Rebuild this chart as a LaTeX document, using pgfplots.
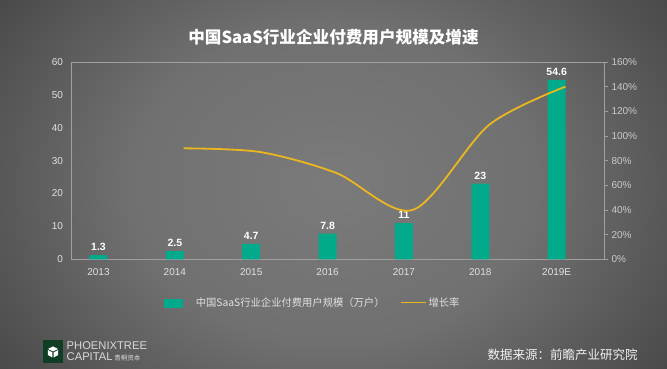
\documentclass[border=0pt]{standalone}
\usepackage{pgfplots}
\pgfplotsset{compat=1.18}
\usepackage{fontspec}
\setmainfont{Liberation Sans}
\newfontfamily\cjk{Noto Sans CJK SC}
\definecolor{barc}{RGB}{0,170,138}
\definecolor{linec}{RGB}{236,183,30}
\definecolor{axc}{RGB}{160,160,160}
\definecolor{tickc}{RGB}{225,225,225}
\definecolor{logog}{RGB}{16,62,36}
\definecolor{c0}{gray}{0.48}
\definecolor{c1}{gray}{0.44}
\definecolor{c2}{gray}{0.28}
\definecolor{c3}{gray}{0.12}
\definecolor{c4}{gray}{0.07}
\pgfdeclareradialshading{bgshade}{\pgfpointorigin}{color(0bp)=(c0); color(12bp)=(c1); color(25bp)=(c2); color(33bp)=(c3); color(41bp)=(c4); color(50bp)=(c4)}
\pgfplotsset{/pgf/number format/assume math mode=true}
\begin{document}
\begin{tikzpicture}
\useasboundingbox (0pt,0pt) rectangle (667pt,369pt);
\begin{scope}
\clip (0pt,0pt) rectangle (667pt,369pt);
\fill[c4] (0pt,0pt) rectangle (667pt,369pt);
\shade[shading=bgshade] (-87pt,-145.5pt) rectangle (753pt,514.5pt);
\end{scope}
% title
\node[text=white] at (333.5pt,331.6pt) {\cjk\bfseries\fontsize{16.6}{20}\selectfont 中国SaaS行业企业付费用户规模及增速};
\begin{axis}[
  at={(71pt,109.7pt)}, anchor=south west,
  width=533pt, height=197.3pt, scale only axis,
  xmin=-0.36, xmax=6.62, ymin=0, ymax=60,
  xtick={0,...,6}, xticklabels={2013,2014,2015,2016,2017,2018,2019E},
  ytick={0,10,...,60},
  major tick length=0pt,
  axis line style={draw=axc, line width=0.8pt},
  tick label style={text=tickc, font=\fontsize{10}{12}\selectfont},
  yticklabel style={xshift=-4.5pt},
  xticklabel style={yshift=-5.5pt},
  ybar, bar width=18pt,
  nodes near coords,
  every node near coord/.append style={text=white, font=\bfseries\fontsize{10.5}{12}\selectfont, yshift=1pt},
]
\addplot[fill=barc, draw=none] coordinates {(0,1.3) (1,2.5) (2,4.7) (3,7.8) (4,11) (5,23) (6,54.6)};
\end{axis}
\begin{axis}[
  at={(71pt,109.7pt)}, anchor=south west,
  width=533pt, height=197.3pt, scale only axis,
  xmin=-0.36, xmax=6.62, ymin=0, ymax=160,
  ytick={0,20,...,160},
  axis x line=none, axis y line*=right,
  axis line style={draw=axc, line width=0.8pt},
  ytick style={draw=axc, line width=0.8pt}, tick align=outside, major tick length=4pt,
  yticklabel={\pgfmathprintnumber{\tick}\%},
  yticklabel style={text=tickc!90!black, font=\fontsize{10}{12}\selectfont},
  legend style={at={(0.454,-0.2215)}, anchor=center, draw=none, fill=none, text=tickc,
    font=\cjk\fontsize{10.3}{12}\selectfont, legend columns=2,
    /tikz/every even column/.append style={column sep=14pt}},
]
\addlegendimage{legend image code/.code={\fill[barc] (0pt,-4pt) rectangle (18pt,4pt); \path (29pt,0pt);}}
\addlegendentry{中国SaaS行业企业付费用户规模（万户）}
\addplot[linec, line width=1.8pt, smooth, tension=0.5, mark=none,
  legend image code/.code={\draw[linec, line width=1pt] (0pt,0pt) -- (25pt,0pt);}]
  coordinates {(1.115,90) (2.115,87) (3.115,70) (4.115,40) (5.115,109) (6.115,140)};
\addlegendentry{增长率}
\end{axis}
% source
\node[text=white!94!black] at (562.5pt,14.3pt) {\cjk\fontsize{12.5}{14}\selectfont 数据来源：前瞻产业研究院};
% logo
\fill[logog] (43pt,6pt) rectangle (63pt,29pt);
\fill[white] (53pt,22.5pt) -- (58pt,20pt) -- (53pt,17.5pt) -- (48pt,20pt) -- cycle;
\fill[white] (47.8pt,19pt) -- (52.4pt,16.6pt) -- (52.4pt,11.5pt) -- (47.8pt,14pt) -- cycle;
\fill[white] (58.2pt,19pt) -- (53.6pt,16.6pt) -- (53.6pt,11.5pt) -- (58.2pt,14pt) -- cycle;
\node[anchor=west, inner sep=0pt, text=white!85!black] at (66.5pt,23.3pt) {\fontsize{11.2}{12}\selectfont PHOENIXTREE};
\node[anchor=west, inner sep=0pt, text=white!85!black] at (66.5pt,12pt) {\fontsize{11.2}{12}\selectfont CAPITAL\,{\cjk\fontsize{6.5}{8}\selectfont 青桐资本}};
\end{tikzpicture}
\end{document}
